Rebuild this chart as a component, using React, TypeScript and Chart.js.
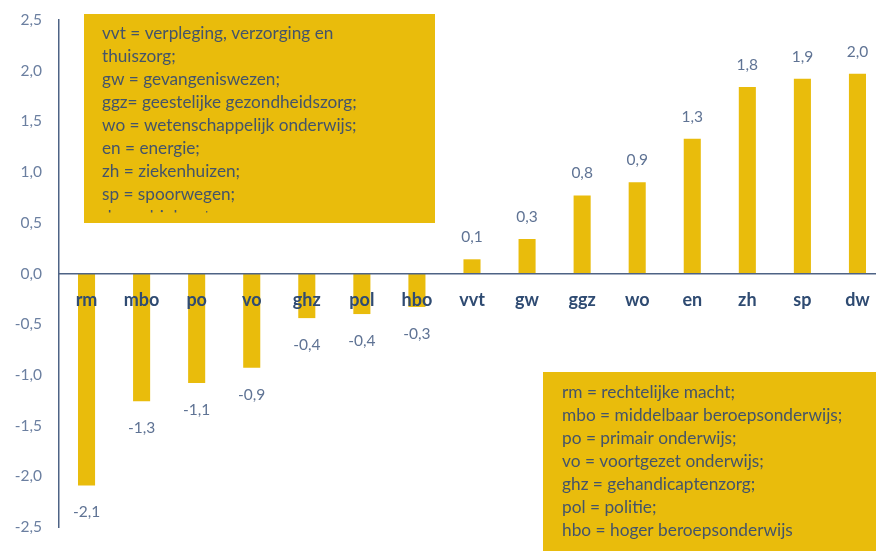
import React, { useEffect, useRef } from "react";
import { Chart, registerables } from "chart.js";

Chart.register(...registerables);

const categories = ["rm", "mbo", "po", "vo", "ghz", "pol", "hbo", "vvt", "gw", "ggz", "wo", "en", "zh", "sp", "dw"];
const values = [-2.09, -1.26, -1.08, -0.93, -0.44, -0.4, -0.33, 0.14, 0.34, 0.77, 0.9, 1.33, 1.84, 1.92, 1.97];
const valueLabels = ["-2,1", "-1,3", "-1,1", "-0,9", "-0,4", "-0,4", "-0,3", "0,1", "0,3", "0,8", "0,9", "1,3", "1,8", "1,9", "2,0"];
const yTickLabels: Record<string, string> = {
  "2.5": "2,5", "2": "2,0", "1.5": "1,5", "1": "1,0", "0.5": "0,5", "0": "0,0",
  "-0.5": "-0,5", "-1": "-1,0", "-1.5": "-1,5", "-2": "-2,0", "-2.5": "-2,5",
};
const legendTop = [
  "vvt = verpleging, verzorging en",
  "thuiszorg;",
  "gw = gevangeniswezen;",
  "ggz= geestelijke gezondheidszorg;",
  "wo = wetenschappelijk onderwijs;",
  "en = energie;",
  "zh = ziekenhuizen;",
  "sp = spoorwegen;",
  "dw = drinkwater",
];
const legendBottom = [
  "rm = rechtelijke macht;",
  "mbo = middelbaar beroepsonderwijs;",
  "po = primair onderwijs;",
  "vo = voortgezet onderwijs;",
  "ghz = gehandicaptenzorg;",
  "pol = politie;",
  "hbo = hoger beroepsonderwijs",
];

const GOLD = "#E9BC0C";
const FONT = "Lato, 'Open Sans', sans-serif";

const overlayPlugin = {
  id: "overlay",
  afterDatasetsDraw(chart: any) {
    const ctx = chart.ctx;
    const meta = chart.getDatasetMeta(0);
    ctx.save();
    ctx.font = `15.5px ${FONT}`;
    ctx.fillStyle = "#5F7394";
    ctx.textAlign = "center";
    ctx.textBaseline = "middle";
    meta.data.forEach((bar: any, i: number) => {
      const v = values[i];
      const y = v >= 0 ? bar.y - 22 : bar.y + 27;
      ctx.fillText(valueLabels[i], bar.x, y);
    });
    ctx.restore();
  },
  afterDraw(chart: any) {
    const ctx = chart.ctx;
    const drawBox = (x: number, y: number, w: number, h: number, clipH: number, lines: string[], tx: number, ty: number, size: number) => {
      ctx.save();
      ctx.fillStyle = GOLD;
      ctx.fillRect(x, y, w, h);
      ctx.beginPath();
      ctx.rect(x, y, w, clipH);
      ctx.clip();
      ctx.font = `${size}px ${FONT}`;
      ctx.fillStyle = "#44546A";
      ctx.textAlign = "left";
      ctx.textBaseline = "middle";
      lines.forEach((l, i) => ctx.fillText(l, tx, ty + i * 23));
      ctx.restore();
    };
    drawBox(84, 14, 351, 209, 198.5, legendTop, 102, 33, 17.2);
    drawBox(543, 372, 340, 185, 178, legendBottom, 562, 392, 17.3);
  },
};

export default function App() {
  const ref = useRef<HTMLCanvasElement | null>(null);
  useEffect(() => {
    if (!ref.current) return;
    const chart = new Chart(ref.current, {
      type: "bar",
      data: {
        labels: categories,
        datasets: [
          {
            data: values,
            backgroundColor: GOLD,
            barPercentage: 0.31,
            categoryPercentage: 1,
          },
        ],
      },
      options: {
        animation: false,
        responsive: false,
        layout: { padding: { top: 20, bottom: 24, left: 0, right: 1 } },
        plugins: { legend: { display: false }, tooltip: { enabled: false } },
        scales: {
          x: {
            position: { y: 0 } as any,
            grid: { display: false, drawTicks: false },
            border: { display: true, color: "#4E6385", width: 1.5, z: 1 },
            ticks: {
              z: 2,
              color: "#2F4B72",
              font: { family: FONT, size: 18, weight: "bold" },
              padding: 16,
              maxRotation: 0,
              autoSkip: false,
            },
          },
          y: {
            min: -2.5,
            max: 2.5,
            afterFit: (s: any) => {
              s.width = 59;
              s.paddingTop = 0;
              s.paddingBottom = 0;
            },
            grid: { display: false, drawTicks: false },
            border: { display: true, color: "#4E6385", width: 1.5 },
            ticks: {
              stepSize: 0.5,
              padding: 17,
              color: "#6B7FA0",
              font: { family: FONT, size: 15.5 },
              callback: (v: any) => yTickLabels[String(v)] ?? String(v),
            },
          },
        },
      },
      plugins: [overlayPlugin],
    });
    return () => chart.destroy();
  }, []);
  return (
    <div style={{ position: "fixed", left: 0, top: 0, width: 876, height: 551, overflow: "hidden", background: "#fff" }}>
      <canvas ref={ref} width={886} height={551} style={{ display: "block" }} />
    </div>
  );
}
